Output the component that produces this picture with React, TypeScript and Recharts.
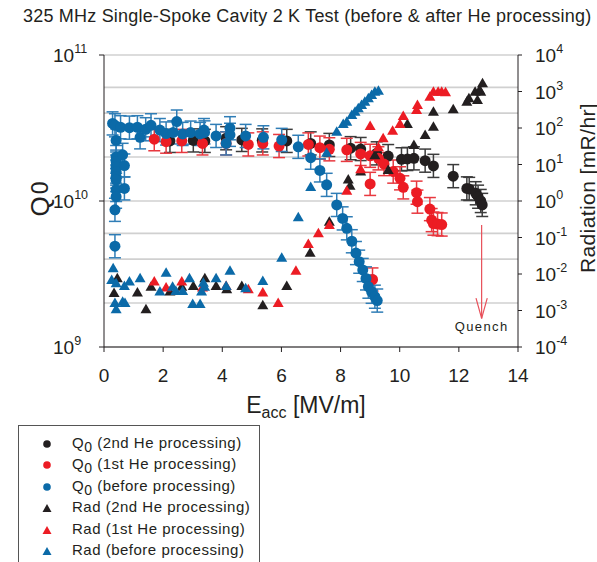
import React from "react"
import {
  ComposedChart,
  Scatter,
  XAxis,
  YAxis,
  CartesianGrid,
  ErrorBar,
  ReferenceLine,
  ReferenceDot,
  Label,
} from "recharts"

const FONT = '"Liberation Sans", Arial, sans-serif'
const INK = "#231f20"
const BLACK = "#231f20"
const RED = "#ec1c24"
const BLUE = "#0b6aa8"
const QUENCH = "#e8505a"

const X_TICKS = [0, 2, 4, 6, 8, 10, 12, 14]
const Q0_DECADES = [1e9, 1e10, 1e11]
const Q0_GRID = [
  1e9, 2e9, 3e9, 4e9, 5e9, 6e9, 7e9, 8e9, 9e9,
  1e10, 2e10, 3e10, 4e10, 5e10, 6e10, 7e10, 8e10, 9e10, 1e11,
]
const RAD_TICKS = [1e-4, 1e-3, 1e-2, 1e-1, 1, 10, 100, 1000, 1e4]

// error bars on Q0 reach about x1.2 up and down
const Q0_ERR = 1.2

// [Eacc MV/m, Q0]
const Q0_SECOND: [number, number][] = [
  [2.23, 2.58e10], [3.02, 2.6e10], [3.41, 2.58e10], [4.13, 2.69e10], [4.66, 2.62e10],
  [5.35, 2.6e10], [6.18, 2.58e10], [6.99, 2.48e10], [7.62, 2.42e10], [8.34, 2.3e10],
  [8.68, 2.27e10], [9.22, 2.12e10], [9.61, 2.03e10], [10.06, 1.93e10], [10.26, 1.94e10],
  [10.48, 1.96e10], [10.86, 1.89e10], [11.14, 1.74e10], [11.81, 1.48e10], [12.27, 1.22e10],
  [12.35, 1.21e10], [12.57, 1.13e10], [12.65, 1.07e10], [12.74, 1.0e10], [12.79, 9.4e9],
]

const Q0_FIRST: [number, number][] = [
  [1.7, 2.65e10], [2.1, 2.55e10], [2.63, 2.58e10], [3.33, 2.48e10], [4.13, 2.48e10],
  [4.88, 2.44e10], [5.37, 2.48e10], [5.92, 2.38e10], [6.91, 2.44e10], [7.3, 2.32e10],
  [7.62, 2.26e10], [8.21, 2.24e10], [8.68, 2.1e10], [9.0, 2.04e10], [9.0, 1.31e10],
  [9.08, 2.9e9], [9.28, 1.96e10], [9.47, 1.79e10], [9.78, 1.59e10], [10.01, 1.43e10],
  [10.12, 1.24e10], [10.57, 1.14e10], [10.6, 9.9e9], [11.02, 8.8e9], [11.08, 7.4e9],
  [11.14, 7.0e9], [11.28, 6.95e9], [11.42, 6.9e9],
]

const Q0_BEFORE: [number, number][] = [
  [0.29, 3.4e10], [0.37, 3.3e10], [0.41, 2.6e10], [0.41, 2.0e10], [0.41, 1.86e10],
  [0.41, 1.72e10], [0.41, 1.59e10], [0.41, 1.47e10], [0.41, 1.39e10], [0.41, 1.19e10],
  [0.41, 1.07e10], [0.37, 8.7e9], [0.37, 4.9e9], [0.63, 2.07e10], [0.69, 1.75e10],
  [0.69, 1.22e10], [0.56, 3.2e10], [0.86, 3.18e10], [1.13, 3.2e10], [1.22, 2.73e10],
  [1.41, 3.1e10], [1.59, 3.3e10], [1.89, 3.06e10], [2.1, 2.9e10], [2.34, 2.95e10],
  [2.46, 3.5e10], [2.66, 2.88e10], [2.93, 2.94e10], [3.25, 2.88e10], [3.38, 3.06e10],
  [3.4, 2.95e10], [3.79, 2.79e10], [4.13, 2.48e10], [4.26, 3.15e10], [4.26, 2.84e10],
  [4.79, 2.79e10], [5.39, 2.73e10], [6.01, 2.62e10], [6.57, 2.35e10], [6.99, 1.98e10],
  [7.3, 1.62e10], [7.53, 1.29e10], [7.87, 9.4e9], [8.07, 7.6e9], [8.21, 6.5e9],
  [8.38, 5.3e9], [8.52, 4.4e9], [8.63, 3.84e9], [8.75, 3.37e9], [8.86, 2.95e9],
  [8.94, 2.59e9], [9.05, 2.39e9], [9.16, 2.21e9], [9.24, 2.08e9],
]

// [Eacc MV/m, radiation mR/hr]
const RAD_SECOND: [number, number][] = [
  [0.34, 0.003], [0.45, 0.0076], [1.13, 0.0031], [1.42, 0.00108], [1.59, 0.0045],
  [2.23, 0.0033], [2.63, 0.0045], [3.02, 0.0047], [3.41, 0.0076], [3.79, 0.0047],
  [4.15, 0.0038], [4.66, 0.0047], [5.37, 0.0014], [6.18, 0.0047], [6.97, 0.038],
  [7.62, 0.27], [8.26, 3.9], [8.32, 2.6], [8.68, 6.4], [9.16, 18], [9.61, 7.1],
  [10.26, 129], [10.48, 34], [10.86, 64], [11.14, 109], [11.14, 280], [11.81, 325],
  [12.27, 526], [12.34, 650], [12.63, 585], [12.55, 990], [12.7, 1100], [12.8, 1675],
  [12.74, 990],
]

const RAD_FIRST: [number, number][] = [
  [1.7, 0.0062], [2.1, 0.0043], [2.63, 0.0062], [3.33, 0.0043], [4.13, 0.0047],
  [4.88, 0.0038], [5.37, 0.0031], [5.89, 0.0016], [6.49, 0.0123], [6.91, 0.066],
  [7.25, 0.13], [7.62, 0.22], [8.21, 1.9], [8.68, 7.4], [9.0, 113], [9.28, 29.5],
  [9.44, 52], [9.76, 84], [10.01, 129], [10.12, 213], [10.57, 311], [10.6, 426],
  [11.02, 721], [11.14, 990], [11.3, 990], [11.42, 990], [11.55, 950],
]

const RAD_BEFORE: [number, number][] = [
  [0.31, 0.0143], [0.26, 0.0069], [0.41, 0.0056], [0.37, 0.0016], [0.41, 0.00108],
  [0.63, 0.00174], [0.71, 0.0016], [0.69, 0.0047], [0.86, 0.0062], [1.22, 0.0076],
  [1.89, 0.0033], [2.1, 0.0109], [2.32, 0.0045], [2.43, 0.0034], [2.66, 0.0034],
  [2.89, 0.0076], [3.0, 0.0015], [3.25, 0.0015], [3.36, 0.0058], [3.4, 0.0045],
  [3.3, 0.0033], [3.79, 0.0076], [4.26, 0.0123], [4.13, 0.0047], [4.79, 0.0041],
  [5.37, 0.0064], [6.01, 0.028], [6.57, 0.36], [6.99, 2.4], [7.53, 21], [7.87, 79],
  [8.09, 129], [8.21, 149], [8.38, 227], [8.49, 280], [8.6, 346], [8.71, 426],
  [8.82, 526], [8.94, 650], [9.05, 802], [9.16, 990], [9.28, 1050],
]

const LEGEND = [
  { q: true, text: " (2nd He processing)", color: BLACK },
  { q: true, text: " (1st He processing)", color: RED },
  { q: true, text: " (before processing)", color: BLUE },
  { q: false, text: "Rad (2nd He processing)", color: BLACK },
  { q: false, text: "Rad (1st He processing)", color: RED },
  { q: false, text: "Rad (before processing)", color: BLUE },
]

const withErr = (pts: [number, number][]) =>
  pts.map(([x, y]) => ({ x, y, err: [y - y / Q0_ERR, y * Q0_ERR - y] }))
const plain = (pts: [number, number][]) => pts.map(([x, y]) => ({ x, y }))

const dot = (color: string) => (p: any) => <circle cx={p.cx} cy={p.cy} r={5.5} fill={color} />
const tri = (color: string) => (p: any) => (
  <polygon
    points={`${p.cx},${p.cy - 5.5} ${p.cx - 5.5},${p.cy + 4} ${p.cx + 5.5},${p.cy + 4}`}
    fill={color}
  />
)

const Pow = ({ x, y, exp, anchor }: { x: number; y: number; exp: number; anchor: string }) => (
  <text x={x} y={y} textAnchor={anchor} fill={INK} fontSize={19}>
    10
    <tspan dy={-9} fontSize={12.5}>{exp}</tspan>
  </text>
)

const LeftTick = (props: any) => {
  const { x, y, payload } = props
  if (!Q0_DECADES.includes(payload.value)) return <g />
  return (
    <g>
      <line x1={x - 5} x2={x} y1={y} y2={y} stroke={INK} />
      <Pow x={x - 51} y={y + 7} exp={Math.round(Math.log10(payload.value))} anchor="start" />
    </g>
  )
}

const RightTick = (props: any) => {
  const { x, y, payload } = props
  return (
    <g>
      <line x1={x} x2={x + 4} y1={y} y2={y} stroke={INK} />
      <Pow x={x + 17} y={y + 7} exp={Math.round(Math.log10(payload.value))} anchor="start" />
    </g>
  )
}

const BottomTick = (props: any) => {
  const { x, y, payload } = props
  return (
    <g>
      <line x1={x} x2={x} y1={y} y2={y + 5} stroke={INK} />
      <text x={x} y={y + 35} textAnchor="middle" fill={INK} fontSize={19}>
        {payload.value}
      </text>
    </g>
  )
}

function Marker({ color, circle }: { color: string; circle: boolean }) {
  return (
    <svg width={12} height={12} style={{ position: "absolute", left: 22, top: -6 }}>
      {circle ? (
        <circle cx={6} cy={6} r={3.8} fill={color} />
      ) : (
        <polygon points="6,2 1.5,10 10.5,10" fill={color} />
      )}
    </svg>
  )
}

export default function App() {
  return (
    <div
      style={{
        position: "absolute",
        left: 0,
        top: 0,
        width: 597,
        height: 562,
        overflow: "hidden",
        background: "#fff",
        fontFamily: FONT,
        color: INK,
      }}
    >
      <div
        style={{
          position: "absolute",
          left: 23,
          top: 6,
          fontSize: 18,
          letterSpacing: 0.2,
          whiteSpace: "nowrap",
        }}
      >
        325 MHz Single-Spoke Cavity 2 K Test (before &amp; after He processing)
      </div>

      <ComposedChart
        width={597}
        height={562}
        margin={{ top: 55, right: 19, bottom: 155, left: 44 }}
        style={{ fontFamily: FONT }}
      >
        <CartesianGrid
          xAxisId="x"
          yAxisId="q0"
          vertical={false}
          stroke="#d0d0d0"
          strokeWidth={1.6}
        />
        <XAxis
          xAxisId="x"
          dataKey="x"
          type="number"
          domain={[0, 14]}
          ticks={X_TICKS}
          height={60}
          tickSize={0}
          tickMargin={0}
          tickLine={false}
          tick={<BottomTick />}
          axisLine={{ stroke: INK }}
        >
          <Label
            content={(p: any) => {
              const vb = p.viewBox
              return (
                <text x={vb.x + vb.width / 2 - 5} y={vb.y + 66} textAnchor="middle" fill={INK} fontSize={23}>
                  E
                  <tspan dy={5} fontSize={16}>acc</tspan>
                  <tspan dy={-5}> [MV/m]</tspan>
                </text>
              )
            }}
          />
        </XAxis>
        <YAxis
          yAxisId="q0"
          dataKey="y"
          orientation="left"
          scale="log"
          domain={[1e9, 1e11]}
          allowDataOverflow
          ticks={Q0_GRID}
          width={60}
          tickSize={0}
          tickMargin={0}
          tickLine={false}
          tick={<LeftTick />}
          axisLine={{ stroke: INK }}
        >
          <Label
            content={(p: any) => {
              const vb = p.viewBox
              const cx = vb.x - 4
              const cy = vb.y + vb.height / 2 - 3
              return (
                <text
                  x={cx}
                  y={cy}
                  transform={`rotate(-90 ${cx} ${cy})`}
                  textAnchor="middle"
                  dominantBaseline="central"
                  fill={INK}
                  fontSize={26}
                  letterSpacing={2}
                >
                  Q<tspan fontSize={23}>0</tspan>
                </text>
              )
            }}
          />
        </YAxis>
        <YAxis
          yAxisId="rad"
          dataKey="y"
          orientation="right"
          scale="log"
          domain={[1e-4, 1e4]}
          allowDataOverflow
          ticks={RAD_TICKS}
          width={60}
          tickSize={0}
          tickMargin={0}
          tickLine={false}
          tick={<RightTick />}
          axisLine={{ stroke: INK }}
        >
          <Label
            content={(p: any) => {
              const vb = p.viewBox
              const cx = vb.x + 69
              const cy = vb.y + vb.height / 2 - 13
              return (
                <text
                  x={cx}
                  y={cy}
                  transform={`rotate(-90 ${cx} ${cy})`}
                  textAnchor="middle"
                  dominantBaseline="central"
                  fill={INK}
                  fontSize={21}
                  letterSpacing={0.4}
                >
                  Radiation [mR/hr]
                </text>
              )
            }}
          />
        </YAxis>

        <Scatter xAxisId="x" yAxisId="q0" data={withErr(Q0_SECOND)} dataKey="y" shape={dot(BLACK)} isAnimationActive={false}>
          <ErrorBar dataKey="err" direction="y" width={6} stroke="#3c3c3c" strokeWidth={1.5} isAnimationActive={false} />
        </Scatter>
        <Scatter xAxisId="x" yAxisId="q0" data={withErr(Q0_FIRST)} dataKey="y" shape={dot(RED)} isAnimationActive={false}>
          <ErrorBar dataKey="err" direction="y" width={6} stroke="#e8383f" strokeWidth={1.5} isAnimationActive={false} />
        </Scatter>
        <Scatter xAxisId="x" yAxisId="q0" data={withErr(Q0_BEFORE)} dataKey="y" shape={dot(BLUE)} isAnimationActive={false}>
          <ErrorBar dataKey="err" direction="y" width={6} stroke="#2f7db6" strokeWidth={1.5} isAnimationActive={false} />
        </Scatter>
        <Scatter xAxisId="x" yAxisId="rad" data={plain(RAD_SECOND)} dataKey="y" shape={tri(BLACK)} isAnimationActive={false} />
        <Scatter xAxisId="x" yAxisId="rad" data={plain(RAD_FIRST)} dataKey="y" shape={tri(RED)} isAnimationActive={false} />
        <Scatter xAxisId="x" yAxisId="rad" data={plain(RAD_BEFORE)} dataKey="y" shape={tri(BLUE)} isAnimationActive={false} />

        <ReferenceLine
          xAxisId="x"
          yAxisId="q0"
          segment={[{ x: 12.77, y: 6.85e9 }, { x: 12.77, y: 1.57e9 }]}
          stroke={QUENCH}
          strokeWidth={1.2}
        />
        <ReferenceLine
          xAxisId="x"
          yAxisId="q0"
          segment={[{ x: 12.58, y: 2.16e9 }, { x: 12.77, y: 1.57e9 }]}
          stroke={QUENCH}
          strokeWidth={1.2}
        />
        <ReferenceLine
          xAxisId="x"
          yAxisId="q0"
          segment={[{ x: 12.96, y: 2.16e9 }, { x: 12.77, y: 1.57e9 }]}
          stroke={QUENCH}
          strokeWidth={1.2}
        />
        <ReferenceDot
          xAxisId="x"
          yAxisId="q0"
          x={12.77}
          y={1.39e9}
          shape={(p: any) => (
            <text x={p.cx} y={p.cy + 5} textAnchor="middle" fill={INK} fontSize={13} letterSpacing={1.4}>
              Quench
            </text>
          )}
        />
      </ComposedChart>

      <div
        style={{
          position: "absolute",
          left: 18,
          top: 425,
          width: 240,
          height: 160,
          border: "1px solid #555",
          background: "#fff",
        }}
      >
        {LEGEND.map((item, i) => (
          <div
            key={i}
            style={{ position: "absolute", left: 0, top: 18 + i * 21.4, width: 240, height: 0 }}
          >
            <Marker color={item.color} circle={item.q} />
            <div
              style={{
                position: "absolute",
                left: 53,
                top: -10,
                fontSize: 15,
                lineHeight: "18px",
                letterSpacing: 0.5,
                whiteSpace: "nowrap",
              }}
            >
              {item.q ? (
                <>
                  Q<span style={{ fontSize: 14, position: "relative", top: 4 }}>0</span>
                  {item.text}
                </>
              ) : (
                item.text
              )}
            </div>
          </div>
        ))}
      </div>
    </div>
  )
}
